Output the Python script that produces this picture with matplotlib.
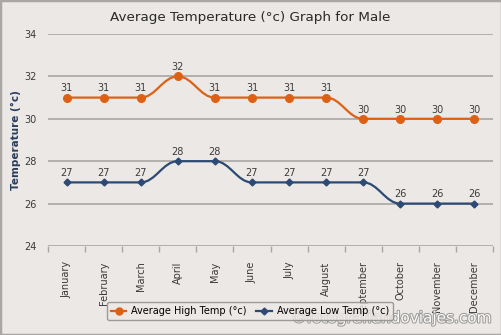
import matplotlib
matplotlib.use("Agg")
import matplotlib.pyplot as plt
from matplotlib.path import Path
from matplotlib.patches import PathPatch, Rectangle
import matplotlib.patheffects as pe
import numpy as np

months = ["January", "February", "March", "April", "May", "June", "July",
          "August", "September", "October", "November", "December"]
high = [31, 31, 31, 32, 31, 31, 31, 31, 30, 30, 30, 30]
low = [27, 27, 27, 28, 28, 27, 27, 27, 27, 26, 26, 26]
yticks = [24, 26, 28, 30, 32, 34]

title = "Average Temperature (°c) Graph for Male"
ylabel = "Temperature (°c)"
high_name = "Average High Temp (°c)"
low_name = "Average Low Temp (°c)"

HIGH_C = "#dd6115"
LOW_C = "#2c4a74"
BG = "#ebe8e5"


def spline_path(xs, ys, smoothing=1.5):
    denom = smoothing + 1
    n = len(xs)
    lc = [None] * n
    rc = [None] * n
    for i in range(n):
        x, y = xs[i], ys[i]
        if 0 < i < n - 1:
            lx, ly = xs[i - 1], ys[i - 1]
            nx, ny = xs[i + 1], ys[i + 1]
            lcx = (smoothing * x + lx) / denom
            lcy = (smoothing * y + ly) / denom
            rcx = (smoothing * x + nx) / denom
            rcy = (smoothing * y + ny) / denom
            corr = 0
            if rcx != lcx:
                corr = (rcy - lcy) * (rcx - x) / (rcx - lcx) + y - rcy
            lcy += corr
            rcy += corr
            if lcy > ly and lcy > y:
                lcy = max(ly, y); rcy = 2 * y - lcy
            elif lcy < ly and lcy < y:
                lcy = min(ly, y); rcy = 2 * y - lcy
            if rcy > ny and rcy > y:
                rcy = max(ny, y); lcy = 2 * y - rcy
            elif rcy < ny and rcy < y:
                rcy = min(ny, y); lcy = 2 * y - rcy
            lc[i] = (lcx, lcy)
            rc[i] = (rcx, rcy)
        else:
            lc[i] = (x, y)
            rc[i] = (x, y)
    verts = [(xs[0], ys[0])]
    codes = [Path.MOVETO]
    for i in range(1, n):
        verts += [rc[i - 1], lc[i], (xs[i], ys[i])]
        codes += [Path.CURVE4] * 3
    return Path(verts, codes)


fig = plt.figure(figsize=(5.02, 3.35), dpi=100, facecolor=BG)
fig.patches.append(Rectangle((0, 0), 1, 1, transform=fig.transFigure,
                             fill=False, edgecolor="#a9a6a3", linewidth=2.5))
W, H = 502, 335
ax = fig.add_axes([48 / W, 1 - 246 / H, (493 - 48) / W, (246 - 34) / H])
ax.set_facecolor(BG)
x = np.arange(len(months))

for vals, col, mk, ms in [(high, HIGH_C, "o", 5.5), (low, LOW_C, "D", 3.5)]:
    ax.add_patch(PathPatch(spline_path(list(x), list(vals)), facecolor="none",
                           edgecolor=col, linewidth=1.6, zorder=3))
    ax.plot(x, vals, linestyle="none", marker=mk, markersize=ms, color=col, zorder=4)
    for xi, v in zip(x, vals):
        ax.annotate(str(v), (xi, v), xytext=(0, 3), textcoords="offset points",
                    ha="center", va="bottom", fontsize=7, color="#3c3c3c", zorder=5)

ax.set_xlim(-0.5, len(months) - 0.5)
ax.set_ylim(yticks[0], yticks[-1])
ax.set_yticks(yticks)
ax.grid(axis="y", color="#a8a6a4", linewidth=1.2)
ax.set_axisbelow(True)
for s in ax.spines.values():
    s.set_visible(False)
ax.tick_params(axis="y", length=0, labelsize=7, colors="#3a3a3a", pad=8)
ax.set_xticks(x)
ax.set_xticklabels(months, rotation=90, fontsize=7, color="#3a3a3a")
ax.tick_params(axis="x", length=0, pad=11)
ax.set_xticks(np.arange(-0.5, len(months)), minor=True)
ax.tick_params(axis="x", which="minor", length=4, color="#a8a6a4", width=1)

fig.text(16 / W, 1 - 140 / H, ylabel, rotation=90, ha="center", va="center",
         fontsize=7.5, fontweight="bold", color="#2a3d5c")
fig.text(250 / W, 1 - 17 / H, title, ha="center", va="center", fontsize=9.7, color="#2a2a2a")

hh = ax.plot([], [], color=HIGH_C, marker="o", markersize=5, linewidth=1.6)[0]
ll = ax.plot([], [], color=LOW_C, marker="D", markersize=3.5, linewidth=1.6)[0]
leg = fig.legend([hh, ll], [high_name, low_name], loc="center",
                 bbox_to_anchor=(250 / W, 1 - 311 / H), ncol=2, fontsize=7,
                 frameon=True, fancybox=True, handlelength=1.6, columnspacing=1.0,
                 handletextpad=0.5, borderpad=0.4)
leg.get_frame().set_facecolor(BG)
leg.get_frame().set_edgecolor("#8a8886")
leg.get_frame().set_linewidth(1)

fig.text(492 / W, 1 - 318 / H, "©fotografiandoviajes.com", ha="right", va="center",
         fontsize=11, color="white", alpha=0.95,
         path_effects=[pe.withStroke(linewidth=1.5, foreground="#9a9896")])

fig.savefig("out.png", dpi=100, facecolor=BG)
